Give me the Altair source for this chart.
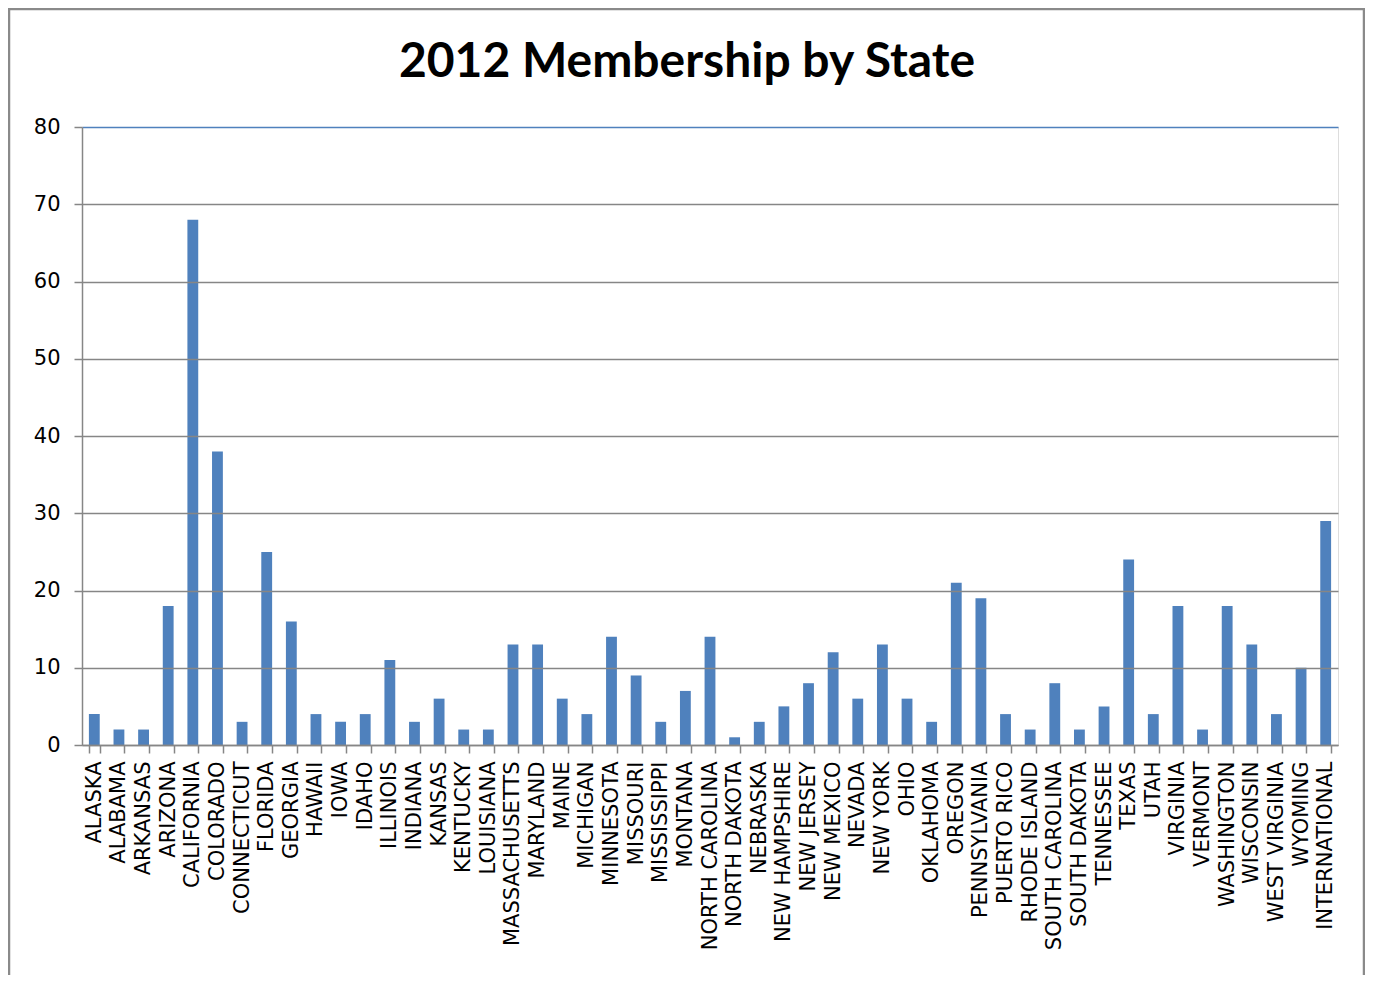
import altair as alt
import pandas as pd

states = ["ALASKA", "ALABAMA", "ARKANSAS", "ARIZONA", "CALIFORNIA", "COLORADO",
          "CONNECTICUT", "FLORIDA", "GEORGIA", "HAWAII", "IOWA", "IDAHO", "ILLINOIS",
          "INDIANA", "KANSAS", "KENTUCKY", "LOUISIANA", "MASSACHUSETTS", "MARYLAND",
          "MAINE", "MICHIGAN", "MINNESOTA", "MISSOURI", "MISSISSIPPI", "MONTANA",
          "NORTH CAROLINA", "NORTH DAKOTA", "NEBRASKA", "NEW HAMPSHIRE", "NEW JERSEY",
          "NEW MEXICO", "NEVADA", "NEW YORK", "OHIO", "OKLAHOMA", "OREGON",
          "PENNSYLVANIA", "PUERTO RICO", "RHODE ISLAND", "SOUTH CAROLINA",
          "SOUTH DAKOTA", "TENNESSEE", "TEXAS", "UTAH", "VIRGINIA", "VERMONT",
          "WASHINGTON", "WISCONSIN", "WEST VIRGINIA", "WYOMING", "INTERNATIONAL"]
members = [4, 2, 2, 18, 68, 38,
           3, 25, 16, 4, 3, 4, 11,
           3, 6, 2, 2, 13, 13,
           6, 4, 14, 9, 3, 7,
           14, 1, 3, 5, 8,
           12, 6, 13, 6, 3, 21,
           19, 4, 2, 8,
           2, 5, 24, 4, 18, 2,
           18, 13, 4, 10, 29]
y_ticks = [0, 10, 20, 30, 40, 50, 60, 70, 80]
title_text = "2012 Membership by State"

df = pd.DataFrame({"state": states, "members": members})

W, H = 1256, 618
PAD_L, PAD_T, PAD_R, PAD_B = 74, 119, 27, 230

bars = alt.Chart(df).mark_bar(color="#4F81BD").encode(
    x=alt.X("state:N", sort=states, title=None,
            scale=alt.Scale(paddingInner=0.56, paddingOuter=0.28),
            axis=alt.Axis(labelAngle=-90, labelAlign="right", labelBaseline="middle",
                          labelFont="DejaVu Sans", labelFontSize=21, labelColor="#000000",
                          labelPadding=8, tickBand="extent", tickSize=8,
                          tickColor="#868686", tickWidth=1.5,
                          domainColor="#868686", domainWidth=1.5,
                          grid=False, zindex=1, labelOverlap=False, labelLimit=400)),
    y=alt.Y("members:Q", title=None,
            scale=alt.Scale(domain=[0, 80], nice=False),
            axis=alt.Axis(values=y_ticks, labelFont="DejaVu Sans", labelFontSize=21,
                          labelColor="#000000", labelPadding=14, tickSize=8,
                          tickColor="#868686", tickWidth=1.5,
                          domainColor="#868686", domainWidth=1.5,
                          grid=True,
                          gridColor=alt.condition("datum.value === 80",
                                                  alt.value("#4F81BD"),
                                                  alt.value("#868686")),
                          gridWidth=1.5, zindex=1)),
)

frame = alt.Chart(alt.Data(values=[{"f": 1}])).mark_rect(
    fill=None, stroke="#8a8a8a", strokeWidth=2.5, clip=False
).encode(
    x=alt.value(-PAD_L + 1), x2=alt.value(W + PAD_R - 1),
    y=alt.value(-PAD_T + 1), y2=alt.value(H + PAD_B + 20),
)

title = alt.Chart(alt.Data(values=[{"t": title_text}])).mark_text(
    font="Lato", fontSize=48, fontWeight="bold", color="#000000",
    align="center", baseline="middle", clip=False
).encode(
    text="t:N", x=alt.value(605), y=alt.value(-64),
)

chart = alt.layer(bars, frame, title).properties(
    width=W, height=H,
    autosize=alt.AutoSizeParams(type="none"),
    padding={"left": PAD_L, "top": PAD_T, "right": PAD_R, "bottom": PAD_B},
).configure_view(
    stroke="#4F81BD", strokeWidth=1.5
).configure(background="white")

chart.save("out.html", embed_options={"renderer": "svg", "actions": False})
